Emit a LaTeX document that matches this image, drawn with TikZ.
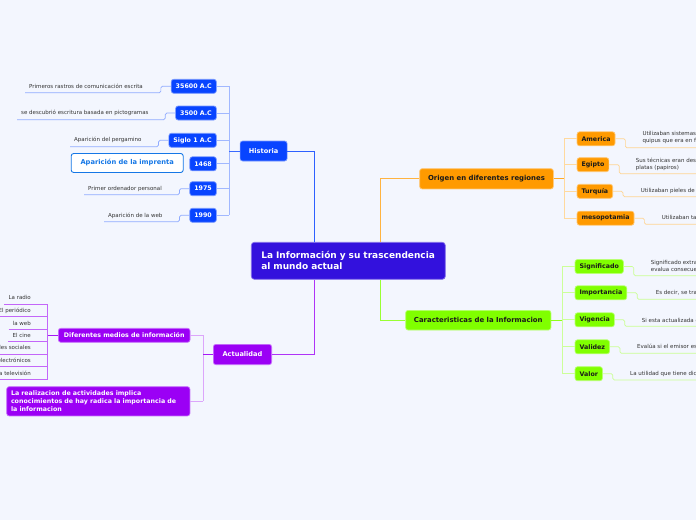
\documentclass[tikz,border=0pt]{standalone}
\usepackage{fontspec}
\setmainfont{DejaVu Sans}
\definecolor{cBg}{HTML}{F3F6FE}
\definecolor{cCentral}{HTML}{3311DD}
\definecolor{cBlue}{HTML}{0844FF}
\definecolor{cOrange}{HTML}{FF9A00}
\definecolor{cGreen}{HTML}{80FF00}
\definecolor{cPurple}{HTML}{9B00F5}
\definecolor{cDark}{HTML}{1A1A1A}
\definecolor{cLeaf}{HTML}{333333}
\definecolor{cImpr}{HTML}{1577E6}
\tikzset{
  box/.style={rounded corners=2.5pt, line width=0.7pt, inner xsep=4.5pt, inner ysep=0pt,
    minimum height=14pt, font=\bfseries\fontsize{6.3}{7.5}\selectfont, align=center},
  bluebox/.style={box, fill=cBlue, draw=cBlue!55!white, text=white},
  orbox/.style={box, fill=cOrange, draw=cOrange!55!white, text=cDark},
  grbox/.style={box, fill=cGreen, draw=cGreen!55!white, text=cDark},
  pubox/.style={box, fill=cPurple, draw=cPurple!55!white, text=white},
  leaf/.style={inner sep=0pt, font=\fontsize{5.5}{7.4}\selectfont, text=cLeaf, align=left},
  bmain/.style={draw=cBlue!85!white, line width=1pt},
  bbr/.style={draw=cBlue!38!white, line width=0.8pt},
  bdark/.style={draw=cBlue!80!white, line width=1pt},
  bleaf/.style={draw=cBlue!45!white, line width=0.7pt, rounded corners=1.5pt},
  omain/.style={draw=cOrange!75!white, line width=1pt},
  obr/.style={draw=cOrange!38!white, line width=0.8pt},
  odark/.style={draw=cOrange!85!white, line width=1pt},
  oleaf/.style={draw=cOrange!42!white, line width=0.7pt, rounded corners=1.5pt},
  gmain/.style={draw=cGreen!80!white, line width=1pt},
  gbr/.style={draw=cGreen!40!white, line width=0.8pt},
  gdark/.style={draw=cGreen!90!white, line width=1pt},
  gleaf/.style={draw=cGreen!42!white, line width=0.7pt, rounded corners=1.5pt},
  pmain/.style={draw=cPurple!80!white, line width=1pt},
  pbr/.style={draw=cPurple!35!white, line width=0.8pt},
  pdark/.style={draw=cPurple!90!white, line width=1pt},
  pleaf/.style={draw=cPurple!60!white, line width=0.7pt},
}
\begin{document}
\begin{tikzpicture}[x=1pt,y=-1pt]
\useasboundingbox (0,0) rectangle (696,520);
\fill[cBg] (0,0) rectangle (696,520);
\clip (0,0) rectangle (696,520);

% central
\node[rounded corners=3pt, fill=cCentral, draw=cCentral!60!white, line width=0.7pt,
  text=white, font=\bfseries\fontsize{9}{11.2}\selectfont, align=left,
  text width=174pt, inner xsep=10pt, inner ysep=0pt, minimum height=37pt]
  (central) at (348.3,260.8) {La Información y su trascendencia\\al mundo actual};

% ---------- Historia ----------
\node[bluebox, minimum width=47pt, minimum height=20pt, font=\bfseries\fontsize{6.6}{8}\selectfont] (hist) at (263.6,151) {Historia};
\node[bluebox, anchor=east] (h1) at (216.7,86.3) {35600 A.C};
\node[bluebox, anchor=east] (h2) at (216.7,113) {3500 A.C};
\node[bluebox, anchor=east] (h3) at (216.7,140.3) {Siglo 1 A.C};
\node[bluebox, anchor=east] (h4) at (216.7,163.8) {1468};
\node[bluebox, anchor=east] (h5) at (216.7,188.7) {1975};
\node[bluebox, anchor=east] (h6) at (216.7,215.3) {1990};
\node[box, fill=white, draw=cImpr, line width=0.9pt, text=cImpr, minimum width=112pt,
  minimum height=19pt, font=\bfseries\fontsize{6.7}{8}\selectfont] (impr) at (127.2,163) {Aparición de la imprenta};

\node[leaf, anchor=west] (l1) at (29,86.3) {Primeros rastros de comunicación escrita};
\node[leaf, anchor=west] (l2) at (21,113) {se descubrió escritura basada en pictogramas};
\node[leaf, anchor=west] (l3) at (74,140) {Aparición del pergamino};
\node[leaf, anchor=west] (l5) at (88,188.7) {Primer ordenador personal};
\node[leaf, anchor=west] (l6) at (108,215.7) {Aparición de la web};
\coordinate (u1) at (25,92.7);
\coordinate (u2) at (17,119.7);
\coordinate (u3) at (70,146.7);
\coordinate (u5) at (84,194.7);
\coordinate (u6) at (104,221.7);
\draw[bleaf] (h1.west) -- ++(-10,0) |- (u1);
\draw[bleaf] (h2.west) -- ++(-10,0) |- (u2);
\draw[bleaf] (h3.west) -- ++(-10,0) |- (u3);
\draw[bleaf] (h5.west) -- ++(-10,0) |- (u5);
\draw[bleaf] (h6.west) -- ++(-10,0) |- (u6);

\coordinate (hb) at (229,151);
\draw[bbr] (h1.east -| hb) -- (h6.east -| hb);
\foreach \n in {h1,h2,h3,h4,h5,h6} {\draw[bbr] (\n.east) -- (\n.east -| hb);}
\draw[bdark] (hist.west) -- (hb);
\draw[bmain] (hist.east) -| ([xshift=64pt]central.north west);

% ---------- Origen ----------
\node[orbox, minimum width=133.7pt, minimum height=20.3pt, font=\bfseries\fontsize{6.9}{8}\selectfont] (orig) at (486.5,178.8) {Origen en diferentes regiones};
\node[orbox, anchor=west] (o1) at (576.7,138.8) {America};
\node[orbox, anchor=west] (o2) at (576.7,164.7) {Egipto};
\node[orbox, anchor=west] (o3) at (576.7,191.3) {Turquía};
\node[orbox, anchor=west] (o4) at (576.7,218.2) {mesopotamia};
\node[leaf, anchor=west] (ol1) at (642.3,137.7) {Utilizaban sistemas de cuerdas llamados\\quipus que era en forma de nudos};
\node[leaf, anchor=west] (ol2) at (635.7,164.3) {Sus técnicas eran desarrolladas en\\platas (papiros)};
\node[leaf, anchor=west] (ol3) at (640.7,190.7) {Utilizaban pieles de animales};
\node[leaf, anchor=west] (ol4) at (661.7,217.9) {Utilizaban tablillas de arcilla};
\coordinate (ou1) at (705,147.7);
\coordinate (ou2) at (705,173.7);
\coordinate (ou3) at (705,196.7);
\coordinate (ou4) at (705,224.3);
\draw[oleaf] (o1.east) -- ++(10,0) |- (ou1);
\draw[oleaf] (o2.east) -- ++(10,0) |- (ou2);
\draw[oleaf] (o3.east) -- ++(10,0) |- (ou3);
\draw[oleaf] (o4.east) -- ++(10,0) |- (ou4);
\coordinate (ob) at (564.3,178.8);
\draw[obr] (o1.west -| ob) -- (o4.west -| ob);
\foreach \n in {o1,o2,o3,o4} {\draw[obr] (\n.west) -- (\n.west -| ob);}
\draw[odark] (orig.east) -- (ob);
\draw[omain] (orig.west) -| ([xshift=130pt]central.north west);

% ---------- Caracteristicas ----------
\node[grbox, minimum width=145.3pt, minimum height=19.7pt, font=\bfseries\fontsize{6.9}{8}\selectfont] (car) at (478.3,320.2) {Caracteristicas de la Informacion};
\node[grbox, anchor=west] (g1) at (574.7,266.5) {Significado};
\node[grbox, anchor=west] (g2) at (574.7,292.8) {Importancia};
\node[grbox, anchor=west] (g3) at (574.7,319.8) {Vigencia};
\node[grbox, anchor=west] (g4) at (574.7,346.8) {Validez};
\node[grbox, anchor=west] (g5) at (574.7,373.7) {Valor};
\node[leaf, anchor=west] (gl1) at (650.7,265.7) {Significado extraído de los datos,\\evalua consecuencias};
\node[leaf, anchor=west] (gl2) at (655.7,293) {Es decir, se trata de su relevancia};
\node[leaf, anchor=west] (gl3) at (641.7,320) {Si esta actualizada o no};
\node[leaf, anchor=west] (gl4) at (637,346.7) {Evalúa si el emisor es confiable};
\node[leaf, anchor=west] (gl5) at (630,373.7) {La utilidad que tiene dicha información};
\coordinate (gu1) at (705,275.7);
\coordinate (gu2) at (705,299.3);
\coordinate (gu3) at (705,326.3);
\coordinate (gu4) at (705,353.3);
\coordinate (gu5) at (705,380);
\draw[gleaf] (g1.east) -- ++(10,0) |- (gu1);
\draw[gleaf] (g2.east) -- ++(10,0) |- (gu2);
\draw[gleaf] (g3.east) -- ++(10,0) |- (gu3);
\draw[gleaf] (g4.east) -- ++(10,0) |- (gu4);
\draw[gleaf] (g5.east) -- ++(10,0) |- (gu5);
\coordinate (cb) at (562,320.2);
\draw[gbr] (g1.west -| cb) -- (g5.west -| cb);
\foreach \n in {g1,g2,g3,g4,g5} {\draw[gbr] (\n.west) -- (\n.west -| cb);}
\draw[gdark] (car.east) -- (cb);
\draw[gmain] (car.west) -| ([xshift=130pt]central.south west);

% ---------- Actualidad ----------
\node[pubox, minimum width=58.3pt, minimum height=20.3pt, font=\bfseries\fontsize{6.6}{8}\selectfont] (act) at (242.5,354.5) {Actualidad};
\node[pubox, minimum width=131.7pt] (dif) at (124.2,335.3) {Diferentes medios de información};
\node[pubox, align=left, text width=174.6pt, inner xsep=4.3pt, minimum height=29.3pt,
  font=\bfseries\fontsize{6.3}{7.9}\selectfont] (real) at (98.3,401.3)
  {La realizacion de actividades implica\\conocimientos de hay radica la importancia de\\la informacion};
\node[leaf, anchor=east] (p1) at (31,297.6) {La radio};
\node[leaf, anchor=east] (p2) at (31,310.7) {El periódico};
\node[leaf, anchor=east] (p3) at (31,323) {la web};
\node[leaf, anchor=east] (p4) at (31,335.5) {El cine};
\node[leaf, anchor=east] (p5) at (31,347.8) {Redes sociales};
\node[leaf, anchor=east] (p6) at (31,360.6) {Medios electrónicos};
\node[leaf, anchor=east] (p7) at (31,372.9) {La televisión};
\coordinate (db) at (47.7,335.3);
\foreach \n/\y in {p1/304,p2/316.7,p3/329,p4/341.7,p5/354,p6/366.7,p7/379.3}
  {\draw[pleaf] ([xshift=-4pt]\n.west |- 0,\y) -- (db |- 0,\y);}
\draw[pleaf] (db |- 0,304) -- (db |- 0,379.3);
\draw[pdark] (dif.west) -- (db);
\coordinate (ab) at (203.3,354.5);
\draw[pbr] (dif.east -| ab) -- (real.east -| ab);
\draw[pbr] (dif.east) -- (dif.east -| ab);
\draw[pbr] (real.east) -- (real.east -| ab);
\draw[pdark] (act.west) -- (ab);
\draw[pmain] (act.east) -| ([xshift=64pt]central.south west);
\end{tikzpicture}
\end{document}
